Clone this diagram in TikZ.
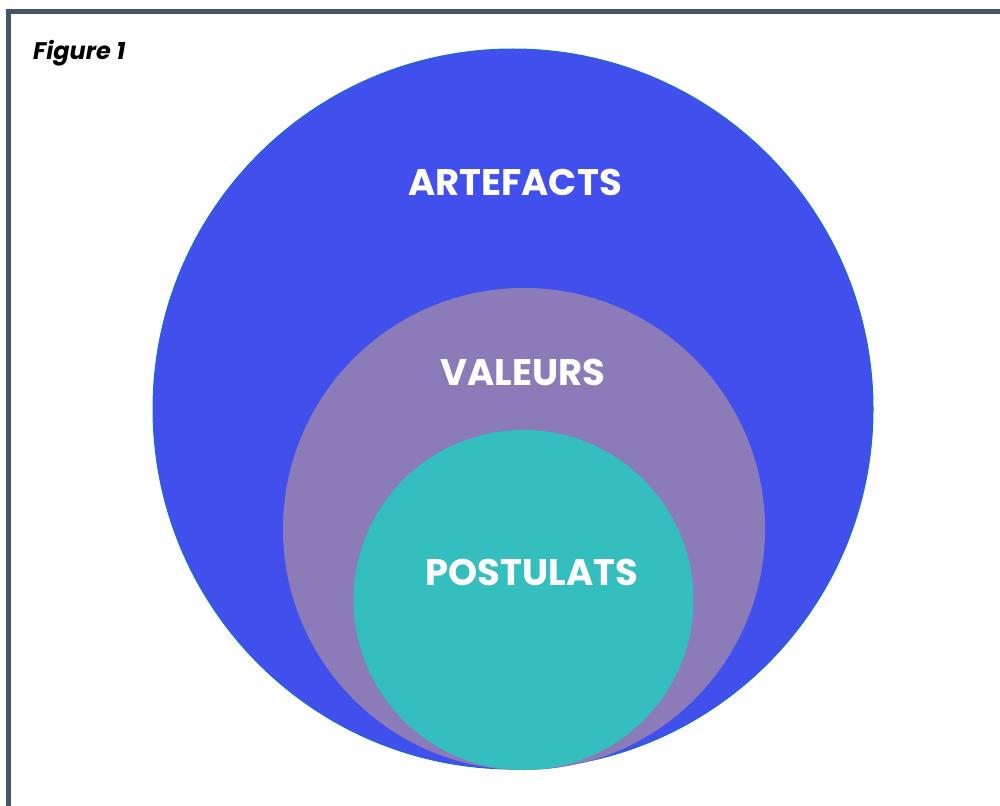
\documentclass[tikz,border=0pt]{standalone}
\usepackage{fontspec}
\setmainfont{Poppins}
\definecolor{outerblue}{HTML}{4150EC}
\definecolor{midpurple}{HTML}{8B7BB8}
\definecolor{innerteal}{HTML}{35BEBE}
\definecolor{rimblue}{HTML}{1A6CC8}
\definecolor{framegray}{HTML}{44546A}
\begin{document}
\begin{tikzpicture}[x=1pt,y=-1pt,
  lbl/.style={text=white,font=\fontsize{37}{40}\selectfont\bfseries,inner sep=0pt,anchor=base}]
\useasboundingbox (0,0) rectangle (1000,805);
\draw[framegray,line width=5pt] (8.5,1000) -- (8.5,11.5) -- (1100,11.5);
\node[anchor=base west,inner sep=0pt,font=\fontsize{24}{26}\selectfont\bfseries\itshape] (fig) at (33,60) {Figure 1};
\fill[outerblue] (513,409) circle[radius=360];
\draw[rimblue,line width=1pt] (513,409) circle[radius=360];
\fill[midpurple] (524,529) circle[radius=241];
\fill[innerteal] (523.5,600) circle[radius=170];
\node[lbl] (art) at (515,195) {ARTEFACTS};
\node[lbl] (val) at (523,385) {VALEURS};
\node[lbl] (pos) at (532,585) {POSTULATS};
\end{tikzpicture}
\end{document}
